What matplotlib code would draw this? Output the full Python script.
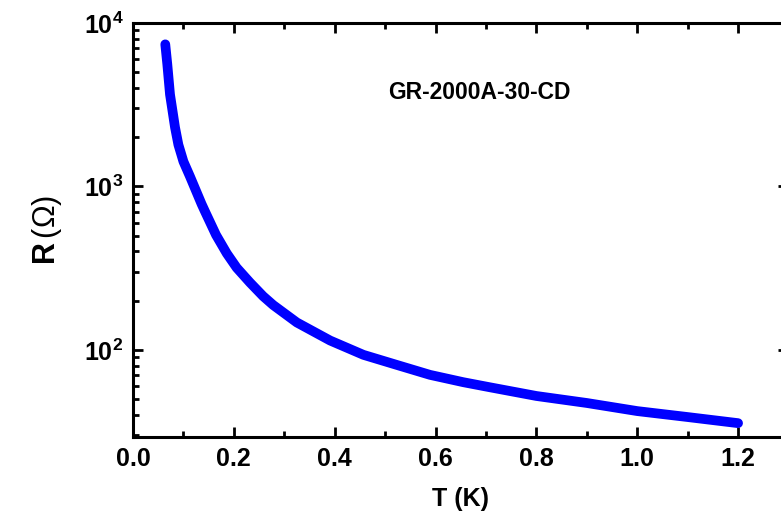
import math
import matplotlib
matplotlib.use("Agg")
import matplotlib.pyplot as plt
from matplotlib.ticker import FixedLocator, FuncFormatter, MultipleLocator, LogLocator, NullFormatter

plt.rcParams['font.family'] = ['Liberation Sans', 'DejaVu Sans']
plt.rcParams['mathtext.fontset'] = 'custom'
plt.rcParams['mathtext.rm'] = 'Liberation Sans'
plt.rcParams['mathtext.bf'] = 'Liberation Sans:bold'

# temperature (K) and resistance (Ohm)
temp_k = [0.064, 0.068, 0.0734, 0.0833, 0.090, 0.100, 0.113, 0.136, 0.143, 0.1646,
          0.186, 0.2056, 0.232, 0.258, 0.278, 0.325, 0.391, 0.457, 0.523, 0.589,
          0.655, 0.708, 0.80, 0.90, 1.00, 1.10, 1.20]
res_ohm = [7400, 5600, 3650, 2300, 1800, 1420, 1150, 780, 700, 505,
           389, 318, 258, 213, 188, 147, 114, 93.2, 80.9, 70.3,
           63.4, 59.0, 52.2, 47.3, 42.2, 38.8, 35.6]

sensor_label = 'GR-2000A-30-CD'
x_ticks = [0.0, 0.2, 0.4, 0.6, 0.8, 1.0, 1.2]
y_ticks = [1e2, 1e3, 1e4]

fig = plt.figure(figsize=(7.81, 5.15), dpi=100)
ax = fig.add_axes([0.1703, 0.1515, 0.8393, 0.8039])

ax.plot(temp_k, res_ohm, color='#0000ff', lw=7, solid_capstyle='round',
        solid_joinstyle='round')

ax.set_yscale('log')
ax.set_xlim(0, 1.3)
ax.set_ylim(29.3, 1e4)

ax.xaxis.set_major_locator(FixedLocator(x_ticks))
ax.xaxis.set_minor_locator(MultipleLocator(0.1))
ax.xaxis.set_major_formatter(FuncFormatter(lambda v, p: f'{v:.1f}'))
ax.yaxis.set_major_locator(FixedLocator(y_ticks))
ax.yaxis.set_minor_locator(LogLocator(base=10, subs=range(2, 10)))
ax.yaxis.set_minor_formatter(NullFormatter())
ax.yaxis.set_major_formatter(FuncFormatter(
    lambda v, p: r'$\mathbf{10^{%d}}$' % round(math.log10(v))))

for s in ax.spines.values():
    s.set_linewidth(2.2)
ax.tick_params(which='both', direction='in', top=True, right=True, width=2.0)
ax.tick_params(which='major', length=7.5, labelsize=18, pad=7)
ax.tick_params(which='minor', length=4.5)
for lbl in ax.get_xticklabels():
    lbl.set_fontweight('bold')

ax.set_xlabel('T (K)', fontsize=18, fontweight='bold', labelpad=12)
ax.set_ylabel(r'$\mathbf{R}\,(\Omega)$', fontsize=22, labelpad=14)

ax.text(0.529, 0.833, sensor_label, transform=ax.transAxes, ha='center',
        va='center', fontsize=16.5, fontweight='bold')

fig.savefig('out.png', dpi=100)
